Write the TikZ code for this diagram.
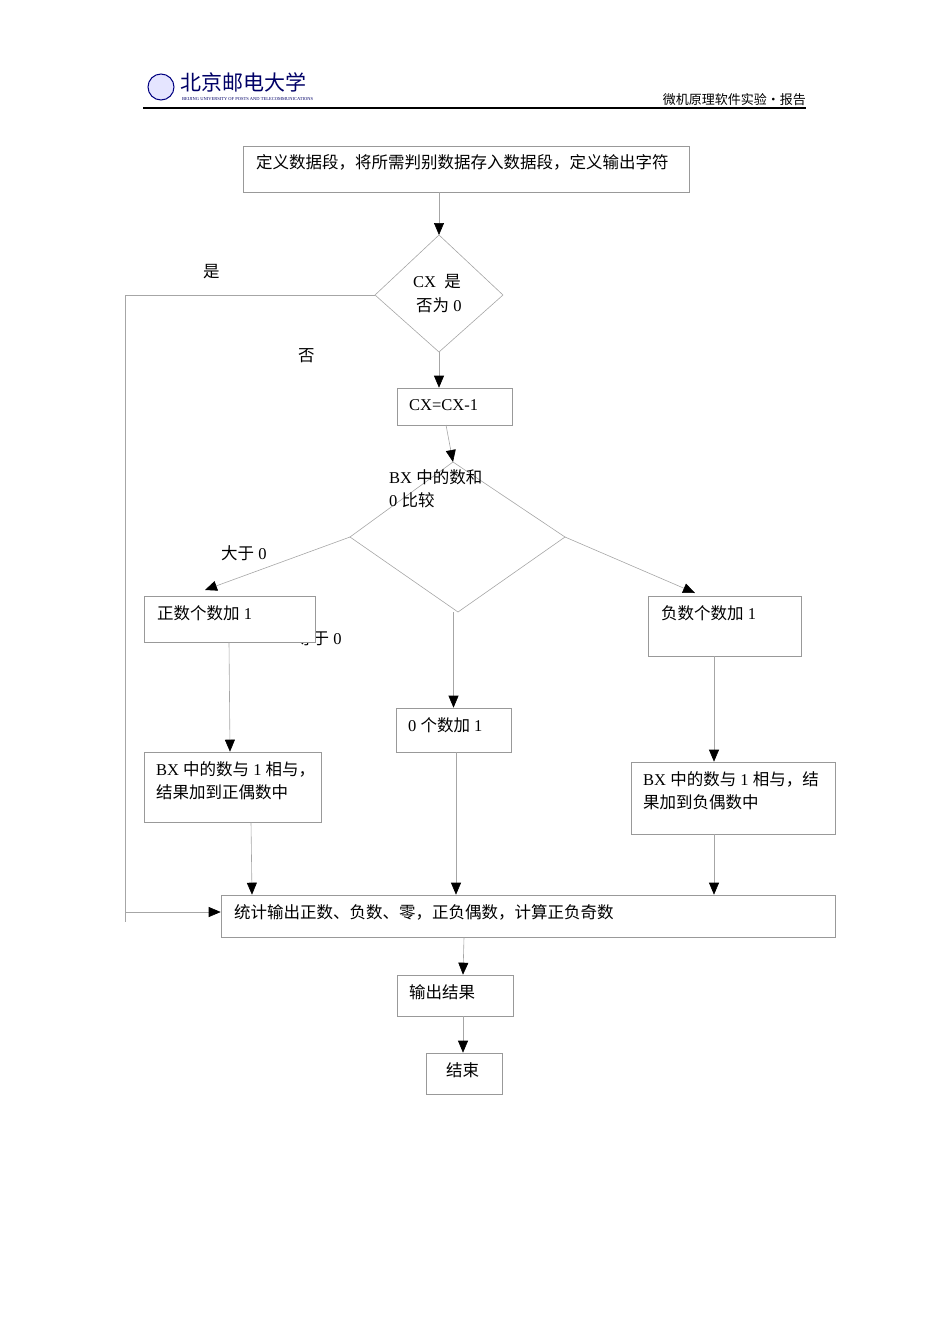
\documentclass[tikz,border=0pt]{standalone}
\usepackage{fontspec}
\usetikzlibrary{arrows.meta}
\setmainfont{Liberation Serif}
\newfontfamily\cjk{Noto Sans CJK SC}
\newcommand\zh[1]{{\cjk #1}}
\begin{document}
\begin{tikzpicture}[x=1pt,y=-1pt,
  ln/.style={draw=black!35,line width=0.6pt},
  arr/.style={ln,-{Triangle[length=12pt,width=10pt,color=black]}},
  bx/.style={draw=black!40,line width=0.6pt,fill=white},
  tx/.style={anchor=west,inner sep=0pt,font=\fontsize{16.5}{19}\selectfont}]
\useasboundingbox (0,0) rectangle (950,1344);
% header
\draw[fill=blue!10,draw=blue!50!black,line width=1pt] (161,87) circle (13);
\node[anchor=west,inner sep=0pt,font=\cjk\fontsize{21}{21}\selectfont,text=blue!40!black] (logo) at (180,82) {北京邮电大学};
\node[anchor=west,inner sep=0pt,font=\fontsize{4.5}{5}\selectfont,text=blue!40!black] (logoen) at (182,99) {BEIJING UNIVERSITY OF POSTS AND TELECOMMUNICATIONS};
\node[anchor=east,inner sep=0pt,font=\cjk\fontsize{13}{13}\selectfont] (hdr) at (806,100) {微机原理软件实验·报告};
\draw[line width=1.5pt] (143,108) -- (806,108);
% box1
\node[bx,minimum width=446,minimum height=46] (b1) at (466,169) {};
\node[tx] (t1) at (256,162) {\zh{定义数据段，将所需判别数据存入数据段，定义输出字符}};
% diamond1
\coordinate (d1t) at (439,235); \coordinate (d1l) at (375,295);
\coordinate (d1r) at (503,295); \coordinate (d1b) at (439,352);
\draw[ln] (d1t)--(d1r)--(d1b)--(d1l)--cycle;
\node[tx] (t2a) at (413,282) {CX\ \ \zh{是}};
\node[tx] (t2b) at (416,305) {\zh{否为} 0};
\coordinate (b1b) at (439,192);
\draw[arr] (b1b) -- (d1t);
% yes loop
\coordinate (yl1) at (125,295); \coordinate (yl2) at (125,922); \coordinate (yl3) at (125,912);
\node[tx] (lyes) at (203,272) {\zh{是}};
\node[tx] (lno) at (298,356) {\zh{否}};
% box2
\node[bx,minimum width=115,minimum height=37] (b2) at (454.5,406.5) {};
\node[tx] (t3) at (409,405) {CX=CX-1};
\draw[arr] (d1b) -- (b2.north -| d1b);
% diamond2
\coordinate (d2t) at (453,462); \coordinate (d2l) at (350,537);
\coordinate (d2r) at (565,537); \coordinate (d2b) at (458,612);
\draw[ln] (d2t)--(d2r)--(d2b)--(d2l)--cycle;
\coordinate (b2o) at (446,425);
\draw[arr] (b2o) -- (d2t);
\node[tx] (t4a) at (389,477) {BX \zh{中的数和}};
\node[tx] (t4b) at (389,500) {0 \zh{比较}};
% labels
\node[tx] (l0) at (296,638) {\zh{等于} 0};
\node[tx] (lgt) at (221,553) {\zh{大于} 0};
% boxes
\node[bx,minimum width=171,minimum height=46] (bp) at (229.5,619) {};
\node[tx] (tp) at (157,613) {\zh{正数个数加} 1};
\node[bx,minimum width=153,minimum height=60] (bn) at (724.5,626) {};
\node[tx] (tn) at (661,613) {\zh{负数个数加} 1};
\node[bx,minimum width=115,minimum height=44] (bz) at (453.5,730) {};
\node[tx] (tz) at (408,725) {0 \zh{个数加} 1};
\coordinate (pa) at (205,590); \coordinate (na) at (695,593);
\draw[arr] (d2l) -- (pa);
\draw[arr] (d2r) -- (na);
\draw[arr] (d2b -| bz.north) -- (bz.north);
\node[bx,minimum width=177,minimum height=70] (bpe) at (232.5,787) {};
\node[tx] (tpe1) at (156,769) {BX \zh{中的数与} 1 \zh{相与，}};
\node[tx] (tpe2) at (156,792) {\zh{结果加到正偶数中}};
\node[bx,minimum width=204,minimum height=72] (bne) at (733,798) {};
\node[tx] (tne1) at (643,779) {BX \zh{中的数与} 1 \zh{相与，结}};
\node[tx] (tne2) at (643,802) {\zh{果加到负偶数中}};
\draw[arr] (bp.south -| 229,0) -- (bpe.north -| 230,0);
\draw[arr] (bn.south -| 714,0) -- (bne.north -| 714,0);
% stats
\node[bx,minimum width=614,minimum height=42] (bs) at (528,916) {};
\node[tx] (ts) at (234,912) {\zh{统计输出正数、负数、零，正负偶数，计算正负奇数}};
\draw[arr] (bpe.south -| 251,0) -- (bs.north -| 252,0);
\draw[arr] (bz.south -| 456,0) -- (bs.north -| 456,0);
\draw[arr] (bne.south -| 714,0) -- (bs.north -| 714,0);
\draw[ln] (d1l) -- (yl1) -- (yl2);
\draw[arr] (yl3) -- (bs.west |- yl3);
% output
\node[bx,minimum width=116,minimum height=41] (bo) at (455,995.5) {};
\node[tx] (to) at (409,992) {\zh{输出结果}};
\draw[arr] (bs.south -| 464,0) -- (bo.north -| 463,0);
\node[bx,minimum width=76,minimum height=41] (be) at (464,1073.5) {};
\node[tx] (te) at (446,1070) {\zh{结束}};
\draw[arr] (bo.south -| 463,0) -- (be.north -| 463,0);
\end{tikzpicture}
\end{document}
